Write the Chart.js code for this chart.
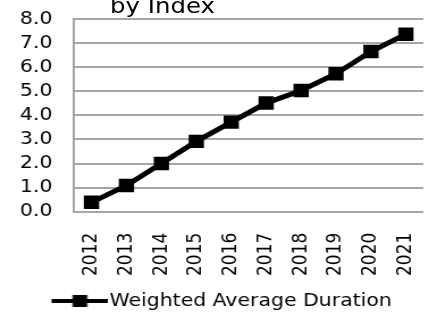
<!DOCTYPE html>
<html>
<head>
<meta charset="utf-8">
<script src="https://cdn.jsdelivr.net/npm/chart.js@4.4.0/dist/chart.umd.min.js"></script>
<style>
  html, body { margin: 0; padding: 0; background: #fff; overflow: hidden; }
  #wrap {
    position: absolute; left: 0; top: 0; width: 378px; height: 314px;
    transform: scaleX(1.135); transform-origin: 0 0;
  }
  #title {
    position: absolute; left: 97px; top: -5px;
    font-family: 'DejaVu Sans', sans-serif; font-size: 21.5px; line-height: 21.5px;
    color: #000; white-space: nowrap;
  }
  canvas { position: absolute; left: 0; top: 0; }
</style>
</head>
<body>
<div id="wrap">
  <canvas id="myChart" width="378" height="314"></canvas>
  <div id="title">by Index</div>
</div>
<script>
// data
let evek = ['2012', '2013', '2014', '2015', '2016', '2017', '2018', '2019', '2020', '2021'];
let duration = [0.39, 1.09, 2.0, 2.92, 3.72, 4.51, 5.03, 5.73, 6.65, 7.37];
let seriesName = 'Weighted Average Duration';
let yMin = 0, yMax = 8, yStep = 1;

// legend glyph: line with a square in the middle
let jel = document.createElement('canvas');
jel.width = 58;
jel.height = 14;
let jc = jel.getContext('2d');
jc.fillStyle = '#000';
jc.fillRect(8, 5, 50, 4);
jc.fillRect(26.5, 1, 13, 12);

var ctx = document.getElementById('myChart').getContext('2d');

var myChart = new Chart(ctx, {
    type: 'line',
    data: {
        labels: evek,
        datasets: [{
            label: seriesName,
            data: duration,
            borderColor: '#000',
            backgroundColor: '#000',
            borderWidth: 5,
            pointStyle: 'rect',
            pointRadius: 9.5,
            pointHoverRadius: 9.5,
            pointBorderWidth: 0,
            tension: 0,
            fill: false
        }]
    },
    options: {
        responsive: false,
        animation: false,
        devicePixelRatio: 1,
        layout: {
            autoPadding: false,
            padding: { left: 17.6, right: 5, top: 19, bottom: -6 }
        },
        scales: {
            x: {
                offset: true,
                grid: { display: false, drawTicks: false },
                border: { display: false },
                ticks: {
                    color: '#000',
                    minRotation: 90,
                    maxRotation: 90,
                    autoSkip: false,
                    padding: 21,
                    font: { family: 'DejaVu Sans', size: 17 }
                },
                afterFit: function (s) {
                    s.height = s.height - 5;
                    s.paddingLeft = 0;
                    s.paddingRight = 0;
                }
            },
            y: {
                min: yMin,
                max: yMax,
                grid: { color: '#a6a6a6', lineWidth: 2, drawTicks: false },
                border: { display: true, color: '#a6a6a6', width: 2 },
                ticks: {
                    stepSize: yStep,
                    autoSkip: false,
                    color: '#000',
                    padding: 19,
                    font: { family: 'DejaVu Sans', size: 18 },
                    callback: function (v) { return Number(v).toFixed(1); }
                },
                afterFit: function (s) {
                    s.width = s.width - 19;
                    s.paddingTop = 0;
                    s.paddingBottom = 0;
                }
            }
        },
        plugins: {
            legend: {
                position: 'bottom',
                labels: {
                    color: '#000',
                    usePointStyle: true,
                    pointStyle: jel,
                    pointStyleWidth: 42,
                    padding: 0,
                    font: { family: 'DejaVu Sans', size: 18 }
                }
            },
            title: { display: false },
            tooltip: { enabled: false }
        }
    }
});
</script>
</body>
</html>
